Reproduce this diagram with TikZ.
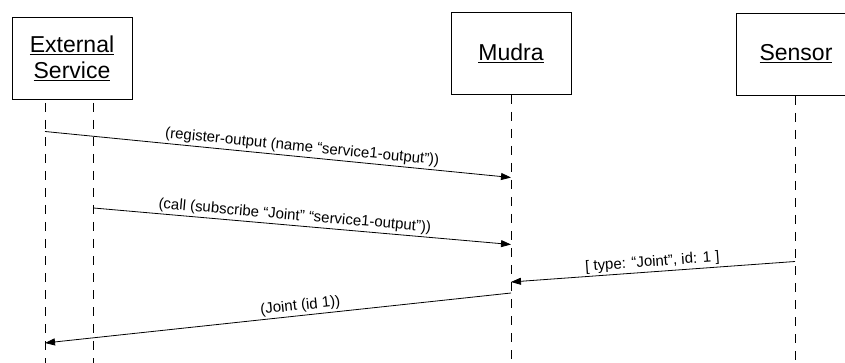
\documentclass[tikz,border=0pt]{standalone}
\usepackage{fontspec}
\setmainfont{Liberation Sans}
\usetikzlibrary{arrows.meta}
\tikzset{
  actor/.style={draw, line width=0.8pt, minimum width=120pt, minimum height=82pt, inner sep=0pt, align=center, font=\fontsize{23}{26}\selectfont},
  lifeline/.style={line width=0.8pt, dash pattern=on 9pt off 8pt},
  msg/.style={line width=0.8pt, -{Triangle[length=10pt,width=7pt]}},
  lbl/.style={font=\fontsize{15}{17}\selectfont, sloped, above, inner sep=2pt}
}
\begin{document}
\begin{tikzpicture}[x=1pt,y=-1pt]
\clip (0,0) rectangle (845,363);
\fill[white] (0,0) rectangle (845,363);
% actors
\node[actor] (ext) at (72,58.5) {\underline{External}\\\underline{Service}};
\node[actor] (mud) at (511,53) {\underline{Mudra}};
\node[actor] (sen) at (796,54) {\underline{Sensor}};
% lifeline ends
\coordinate (e1top) at (45,103);
\coordinate (e1bot) at (45,363);
\coordinate (e2top) at (93.6,103);
\coordinate (e2bot) at (93.6,363);
\coordinate (mtop) at (511,95);
\coordinate (mbot) at (511,363);
\coordinate (stop) at (795,96);
\coordinate (sbot) at (795,363);
\draw[lifeline] (e1top) -- (e1bot);
\draw[lifeline] (e2top) -- (e2bot);
\draw[lifeline] (mtop) -- (mbot);
\draw[lifeline] (stop) -- (sbot);
% message points
\coordinate (a1s) at (45,131.5);
\coordinate (a1e) at (511,177.5);
\coordinate (a2s) at (93.6,208);
\coordinate (a2e) at (511,244.5);
\coordinate (a3s) at (795,261.5);
\coordinate (a3e) at (511,282);
\coordinate (a4s) at (511,293);
\coordinate (a4e) at (45,343);
\draw[msg] (a1s) -- node[lbl, pos=0.55] {(register-output (name “service1-output”))} (a1e);
\draw[msg] (a2s) -- node[lbl, pos=0.48] {(call (subscribe “Joint” “service1-output”))} (a2e);
\draw[msg] (a3s) -- node[lbl, pos=0.5] {[ type: “Joint”, id: 1 ]} (a3e);
\draw[msg] (a4s) -- node[lbl, pos=0.45] {(Joint (id 1))} (a4e);
\end{tikzpicture}
\end{document}
